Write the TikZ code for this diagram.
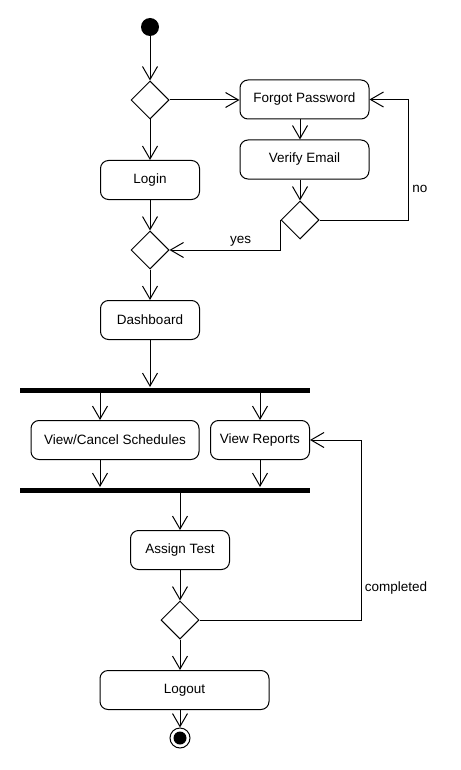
\documentclass[tikz,border=0pt]{standalone}
\usepackage{fontspec}
\setmainfont{Liberation Sans}
\usetikzlibrary{arrows.meta,shapes.geometric,calc}

\begin{document}
\begin{tikzpicture}[x=1pt,y=-1pt,line width=1pt,
	font=\fontsize{13.5}{16}\selectfont,
	act/.style={draw,rounded corners=8pt,minimum height=39pt,minimum width=99pt,inner sep=2pt},
	dec/.style={draw,diamond,inner sep=0pt,minimum size=38pt},
	bar/.style={fill=black,inner sep=0pt,minimum height=5pt,minimum width=290pt},
	flow/.style={-{Straight Barb[length=13pt,width=15pt]}}]
	\useasboundingbox (0,0) rectangle (460,770);
	\node[circle,fill=black,inner sep=0pt,minimum size=18pt] (init) at (150,27) {};
	\node[dec] (d1) at (150,100) {};
	\node[act,minimum width=129pt] (fp) at (304.5,99.5) {Forgot Password};
	\node[act,minimum width=129pt] (ve) at (304.5,159.5) {Verify Email};
	\node[act] (login) at (150,180) {Login};
	\node[dec] (d2) at (300,220) {};
	\node[dec] (d3) at (150,250) {};
	\node[act] (dash) at (150,320) {Dashboard};
	\node[bar] (fork) at (165,390) {};
	\node[act,minimum width=168pt] (vcs) at (115,440) {View/Cancel Schedules};
	\node[act] (vr) at (260,440) {View Reports};
	\node[bar] (join) at (165,490) {};
	\node[act] (at) at (180,550) {Assign Test};
	\node[dec] (d4) at (180,620) {};
	\node[act,minimum width=169pt] (logout) at (184.5,690) {Logout};
	\node[draw,circle,inner sep=0pt,minimum size=20pt] (end) at (180,738) {};
	\fill (end) circle (6.5pt);
	\draw[flow] (init) -- (d1);
	\draw[flow] (d1) -- (d1 -| fp.west);
	\draw[flow] (d1) -- (login);
	\draw[flow] (fp.south -| d2) -- (ve.north -| d2);
	\draw[flow] (ve.south -| d2) -- (d2);
	\draw[flow] (login) -- (d3);
	\draw[flow] (d2.west) |- node[pos=.68,above]{yes} (d3.east);
	\draw[flow] (d2.east) -| ([xshift=39pt]fp.east) node[pos=.63,right]{no} -- (fp.east);
	\draw[flow] (d3) -- (dash);
	\draw[flow] (dash) -- (dash |- fork.north);
	\draw[flow] ([xshift=-15pt]vcs.north |- fork.south) -- ([xshift=-15pt]vcs.north);
	\draw[flow] (fork.south -| vr) -- (vr);
	\draw[flow] ([xshift=-15pt]vcs.south) -- ([xshift=-15pt]vcs.south |- join.north);
	\draw[flow] (vr) -- (vr |- join.north);
	\draw[flow] (join.south -| at) -- (at);
	\draw[flow] (at) -- (d4);
	\draw[flow] (d4.east) -| ([xshift=51pt]vr.east) node[pos=.59,right]{completed} -- (vr.east);
	\draw[flow] (d4) -- (d4 |- logout.north);
	\draw[flow] (logout.south -| d4) -- (end);
\end{tikzpicture}
\end{document}
